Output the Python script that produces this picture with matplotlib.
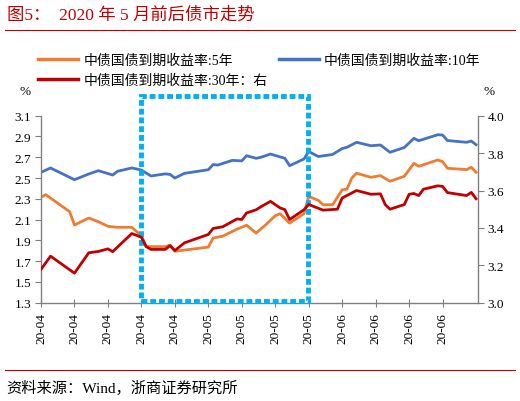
import matplotlib
matplotlib.use("Agg")
import matplotlib.pyplot as plt
from matplotlib.patches import Rectangle
from matplotlib.lines import Line2D

plt.rcParams['font.family'] = ['Liberation Serif', 'Noto Sans CJK SC']

# day index from 2020-04-01
days_5y = [0, 1, 6, 7, 10, 12, 14, 16, 19, 21, 22, 26, 27, 28, 35, 36, 38, 41, 43, 45, 46,
           47, 49, 50, 52, 55, 56, 58, 59, 61, 63, 64, 65, 66, 68, 69, 71, 73, 76, 78, 79,
           83, 84, 85, 89, 90, 91]
yield_5y = [2.315, 2.34, 2.176, 2.048, 2.115, 2.08, 2.035, 2.026, 2.026, 1.945, 1.84, 1.84,
            1.855, 1.795, 1.835, 1.923, 1.94, 2.008, 2.046, 1.97, 2.01, 2.05, 2.137, 2.157,
            2.066, 2.157, 2.323, 2.285, 2.243, 2.243, 2.387, 2.393, 2.499, 2.547, 2.52, 2.507,
            2.523, 2.469, 2.517, 2.642, 2.613, 2.674, 2.658, 2.594, 2.581, 2.604, 2.555]

days_10y = [0, 2, 7, 10, 12, 15, 16, 19, 21, 23, 26, 27, 28, 30, 35, 36, 37, 40, 42, 43, 45,
            46, 48, 51, 52, 55, 56, 58, 61, 63, 64, 66, 69, 71, 73, 76, 78, 79, 83, 84, 85,
            89, 90, 91]
yield_10y = [2.555, 2.597, 2.484, 2.539, 2.571, 2.529, 2.565, 2.597, 2.577, 2.52, 2.54, 2.535,
             2.50, 2.545, 2.58, 2.63, 2.625, 2.67, 2.665, 2.715, 2.69, 2.70, 2.731, 2.69, 2.619,
             2.683, 2.755, 2.707, 2.727, 2.784, 2.796, 2.844, 2.811, 2.818, 2.748, 2.794, 2.882,
             2.859, 2.917, 2.914, 2.861, 2.844, 2.856, 2.821]

days_30y = [0, 2, 7, 10, 12, 14, 15, 19, 21, 22, 23, 26, 27, 28, 30, 35, 36, 38, 41, 42, 43,
            45, 46, 48, 50, 51, 52, 55, 56, 59, 62, 63, 66, 69, 71, 72, 73, 76, 77, 78, 79,
            80, 83, 84, 85, 89, 90, 91]
yield_30y = [3.178, 3.249, 3.158, 3.267, 3.274, 3.288, 3.273, 3.37, 3.35, 3.30, 3.285, 3.285,
             3.305, 3.279, 3.32, 3.365, 3.397, 3.406, 3.448, 3.445, 3.48, 3.497, 3.513, 3.542,
             3.507, 3.498, 3.445, 3.497, 3.525, 3.495, 3.50, 3.56, 3.60, 3.58, 3.582, 3.525,
             3.50, 3.525, 3.58, 3.584, 3.573, 3.607, 3.625, 3.622, 3.589, 3.573, 3.59, 3.556]

tick_days = [0, 7, 14, 21, 28, 35, 42, 49, 56, 63, 70, 77, 84]
tick_labels = ['20-04'] * 5 + ['20-05'] * 4 + ['20-06'] * 4

c5, c10, c30 = '#ED7D31', '#4472C4', '#C00000'
box_color = '#00B0F0'
spine_gray = '#808080'

fig = plt.figure(figsize=(5.2, 4.02), dpi=100)
ax = fig.add_axes([0.0788, 0.2445, 0.8404, 0.4652])
ax2 = ax.twinx()

l5, = ax.plot(days_5y, yield_5y, color=c5, lw=2.0)
l10, = ax.plot(days_10y, yield_10y, color=c10, lw=2.0)
l30, = ax2.plot(days_30y, yield_30y, color=c30, lw=2.0)

ax.set_xlim(0, 91.4)
ax.set_ylim(1.3, 3.1)
ax2.set_ylim(3.0, 4.0)
ax.set_yticks([1.3 + 0.2 * i for i in range(10)])
ax.set_yticklabels([f'{1.3 + 0.2 * i:.1f}' for i in range(10)], fontsize=9.5)
ax2.set_yticks([3.0 + 0.2 * i for i in range(6)])
ax2.set_yticklabels([f'{3.0 + 0.2 * i:.1f}' for i in range(6)], fontsize=9.5)
ax.set_xticks(tick_days)
ax.set_xticklabels(tick_labels, rotation=90, fontsize=9.5)

for a in (ax, ax2):
    a.spines['top'].set_visible(False)
    for s in ('left', 'right', 'bottom'):
        a.spines[s].set_color(spine_gray)
        a.spines[s].set_linewidth(1.0)
ax.spines['right'].set_visible(False)
ax2.spines['left'].set_visible(False)
ax2.spines['bottom'].set_visible(False)
ax.tick_params(axis='x', direction='inout', length=6, color=spine_gray, pad=4)
ax.tick_params(axis='y', direction='out', length=4, color=spine_gray, pad=3)
ax2.tick_params(axis='y', direction='out', length=4, color=spine_gray, pad=3)

# highlight box around May 2020
box = Rectangle((21, 1.315), 34.8, 1.97, transform=ax.transData, fill=False,
                edgecolor=box_color, lw=3.5, linestyle=(0, (1.2, 0.6)), clip_on=False, zorder=5)
ax.add_patch(box)

# legend
handles = [Line2D([], [], color=c5, lw=2.5), Line2D([], [], color=c30, lw=2.5),
           Line2D([], [], color=c10, lw=2.5)]
labels = ['中债国债到期收益率:5年', '中债国债到期收益率:30年：右', '中债国债到期收益率:10年']
fig.legend(handles, labels, ncol=2, loc='upper left', bbox_to_anchor=(0.052, 0.893),
           frameon=False, fontsize=10, handlelength=2.9, handletextpad=0.35,
           columnspacing=0.8, labelspacing=0.52, borderpad=0.3)

fig.text(0.048, 0.77, '%', fontsize=9.5, ha='center', va='center')
fig.text(0.94, 0.77, '%', fontsize=9.5, ha='center', va='center')

# title, rules and source
fig.text(0.013, 0.962, '图5：  2020 年 5 月前后债市走势', fontsize=12.5, color='#C00000',
         ha='left', va='center')
fig.add_artist(Line2D([0.01, 0.99], [0.922, 0.922], color='#C00000', lw=0.8))
fig.add_artist(Line2D([0.01, 0.99], [0.077, 0.077], color='#C00000', lw=0.8))
fig.text(0.013, 0.035, '资料来源：Wind，浙商证券研究所', fontsize=11, ha='left', va='center')

fig.savefig('out.png', dpi=100)
